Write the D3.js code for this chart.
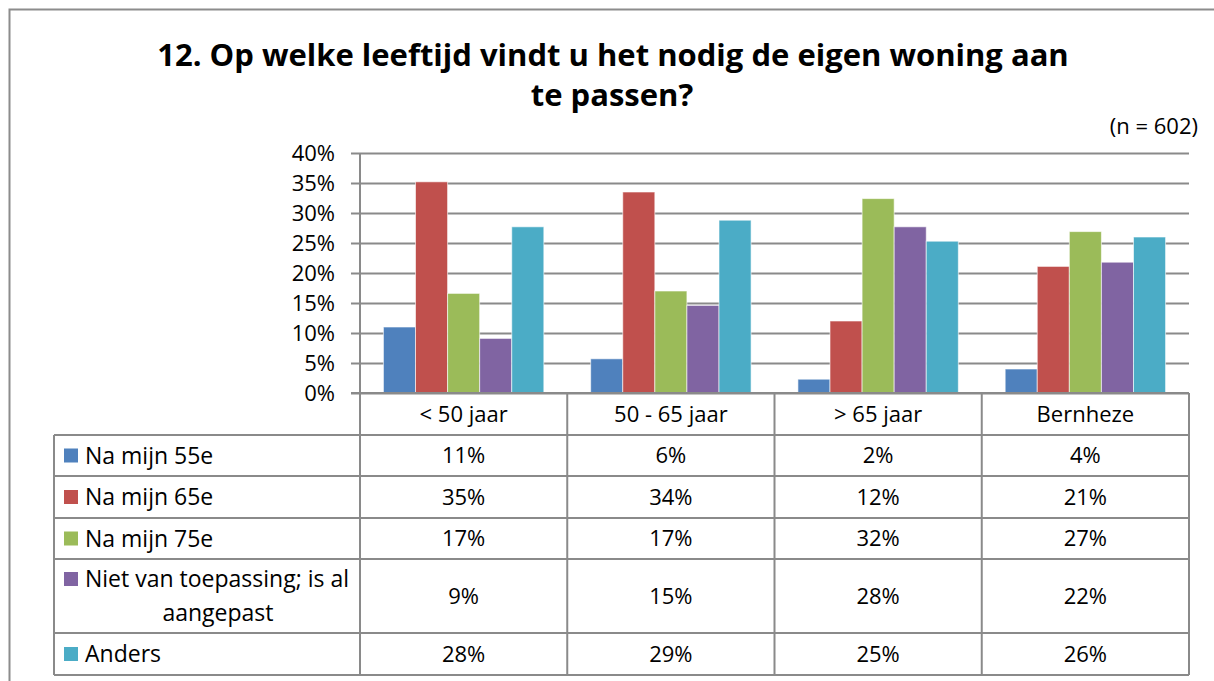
<!DOCTYPE html>
<html>
<head>
<meta charset="utf-8">
<script src="https://cdn.jsdelivr.net/npm/d3@7"></script>
<style>
  body { margin: 0; background: #fff; }
  svg { display: block; font-family: "Open Sans", "Noto Sans", sans-serif; }
</style>
</head>
<body>
<script>
// data
var categories = ["< 50 jaar", "50 - 65 jaar", "> 65 jaar", "Bernheze"];
var seriesNames = ["Na mijn 55e", "Na mijn 65e", "Na mijn 75e", "Niet van toepassing; is al aangepast", "Anders"];
var na55 = [11.0, 5.7, 2.3, 4.0];
var na65 = [35.2, 33.5, 12.0, 21.1];
var na75 = [16.6, 17.0, 32.4, 26.9];
var nietVanToepassing = [9.1, 14.6, 27.7, 21.8];
var anders = [27.7, 28.8, 25.3, 26.0];
var yTicks = [0, 5, 10, 15, 20, 25, 30, 35, 40];
var colors = ["#4F81BD", "#C0504D", "#9BBB59", "#8064A2", "#4BACC6"];

var series = [na55, na65, na75, nietVanToepassing, anders];

var w = 1214, h = 681;
var plot = { left: 360, right: 1189, top: 153, bottom: 393 };
var tableLeft = 54;
// row boundaries of the data table (header row is the category row)
var rowLines = [393, 435, 476, 518, 559, 633, 675];
var gridColor = "#8a8a8a";
var fs = 22;

var svg = d3.select("body").append("svg")
  .attr("width", w)
  .attr("height", h);

// outer chart frame
svg.append("rect")
  .attr("x", 9.5).attr("y", 9.5)
  .attr("width", 1230).attr("height", 700)
  .attr("fill", "none")
  .attr("stroke", "#8c8c8c")
  .attr("stroke-width", 2);

// title
var title = svg.append("text")
  .attr("text-anchor", "middle")
  .attr("font-weight", "bold")
  .attr("font-size", 31)
  .attr("fill", "#000");
title.append("tspan").attr("x", 613).attr("y", 66).text("12. Op welke leeftijd vindt u het nodig de eigen woning aan");
title.append("tspan").attr("x", 612).attr("y", 106).text("te passen?");

svg.append("text")
  .attr("x", 1198).attr("y", 134)
  .attr("text-anchor", "end")
  .attr("font-size", 22)
  .text("(n = 602)");

var x = d3.scaleBand()
  .domain(categories)
  .range([plot.left, plot.right])
  .paddingInner(0)
  .paddingOuter(0);

var x1 = d3.scaleBand()
  .domain(d3.range(seriesNames.length))
  .range([0, x.bandwidth()])
  .paddingOuter(0.73)
  .paddingInner(0);

var y = d3.scaleLinear()
  .domain([0, 40])
  .range([plot.bottom, plot.top]);

// gridlines + y axis
var yAxis = d3.axisLeft(y)
  .tickValues(yTicks)
  .tickSize(-(plot.right - plot.left))
  .tickFormat(function(d){ return d + "%"; });

var gy = svg.append("g")
  .attr("transform", "translate(" + plot.left + ",0)")
  .call(yAxis);
gy.select(".domain").remove();
gy.selectAll(".tick line")
  .attr("stroke", gridColor)
  .attr("stroke-width", 2)
  .attr("x1", -9);
gy.selectAll(".tick text")
  .attr("x", -25)
  .attr("font-size", fs)
  .attr("font-family", "Open Sans, sans-serif")
  .attr("fill", "#000");

// bars
var groups = svg.selectAll("g.cat")
  .data(categories)
  .enter()
  .append("g")
  .attr("class", "cat")
  .attr("transform", function(d){ return "translate(" + x(d) + ",0)"; });

groups.selectAll("rect")
  .data(function(d, i){ return series.map(function(s, j){ return { s: j, v: s[i] }; }); })
  .enter()
  .append("rect")
  .attr("x", function(d){ return x1(d.s); })
  .attr("width", x1.bandwidth())
  .attr("y", function(d){ return y(d.v); })
  .attr("height", function(d){ return y(0) - y(d.v); })
  .attr("fill", function(d){ return colors[d.s]; })
  .attr("stroke", "rgba(255,255,255,0.6)")
  .attr("stroke-width", 1);

// data table
var table = svg.append("g");

// y axis line continues down through the table
table.append("line")
  .attr("x1", plot.left).attr("x2", plot.left)
  .attr("y1", plot.top).attr("y2", rowLines[rowLines.length - 1])
  .attr("stroke", gridColor).attr("stroke-width", 2);

// horizontal lines
rowLines.forEach(function(ry, i){
  table.append("line")
    .attr("x1", i == 0 ? plot.left - 9 : tableLeft)
    .attr("x2", plot.right)
    .attr("y1", ry).attr("y2", ry)
    .attr("stroke", gridColor).attr("stroke-width", 2);
});

// vertical column separators
categories.forEach(function(c){
  table.append("line")
    .attr("x1", x(c) + x.bandwidth()).attr("x2", x(c) + x.bandwidth())
    .attr("y1", rowLines[0]).attr("y2", rowLines[rowLines.length - 1])
    .attr("stroke", gridColor).attr("stroke-width", 2);
});
table.append("line")
  .attr("x1", tableLeft).attr("x2", tableLeft)
  .attr("y1", rowLines[1]).attr("y2", rowLines[rowLines.length - 1])
  .attr("stroke", gridColor).attr("stroke-width", 2);

// category header
table.selectAll("text.cat")
  .data(categories)
  .enter()
  .append("text")
  .attr("class", "cat")
  .attr("x", function(d){ return x(d) + x.bandwidth() / 2; })
  .attr("y", (rowLines[0] + rowLines[1]) / 2)
  .attr("dy", "0.35em")
  .attr("text-anchor", "middle")
  .attr("font-size", fs)
  .text(function(d){ return d; });

series.forEach(function(s, j){
  var cy = (rowLines[j + 1] + rowLines[j + 2]) / 2;
  var two = (j == 3);
  // legend cell
  table.append("rect")
    .attr("x", 64).attr("y", (two ? cy - 17 : cy) - 7)
    .attr("width", 14).attr("height", 14)
    .attr("fill", colors[j]);
  if (two) {
    table.append("text")
      .attr("x", 85).attr("y", cy - 17).attr("dy", "0.35em")
      .attr("font-size", 23)
      .text("Niet van toepassing; is al");
    table.append("text")
      .attr("x", 218).attr("y", cy + 17).attr("dy", "0.35em")
      .attr("text-anchor", "middle")
      .attr("font-size", 23)
      .text("aangepast");
  } else {
    table.append("text")
      .attr("x", 85).attr("y", cy).attr("dy", "0.35em")
      .attr("font-size", 23)
      .text(seriesNames[j]);
  }
  // value cells
  categories.forEach(function(c, i){
    table.append("text")
      .attr("x", x(c) + x.bandwidth() / 2)
      .attr("y", cy).attr("dy", "0.35em")
      .attr("text-anchor", "middle")
      .attr("font-size", fs)
      .text(Math.round(s[i]) + "%");
  });
});
</script>
</body>
</html>
